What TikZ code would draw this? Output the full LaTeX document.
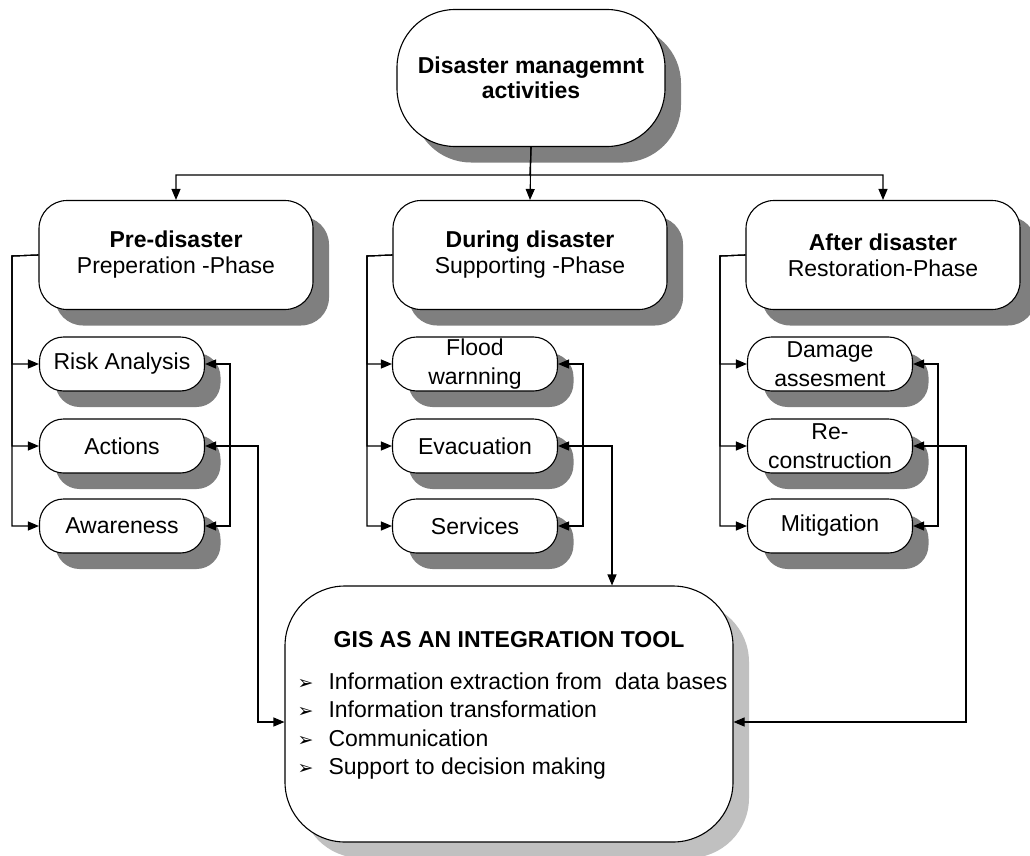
\documentclass[tikz,border=0pt]{standalone}
\usepackage{fontspec}
\setmainfont{Liberation Sans}
\newfontfamily\djv{DejaVu Sans}
\usetikzlibrary{arrows.meta,shadows}
\definecolor{shA}{HTML}{7F7F7F}
\definecolor{shB}{HTML}{C0C0C0}
\newcommand{\gisbullet}{\makebox[31pt][l]{\djv\fontsize{19}{19}\selectfont ➢}}
\begin{document}
\begin{tikzpicture}[x=1pt,y=-1pt,line width=1.1pt,
  arr/.style={-{Triangle[length=11pt,width=9pt]}},
  arrb/.style={{Triangle[length=11pt,width=9pt]}-{Triangle[length=11pt,width=9pt]}},
  shad/.style={drop shadow={shadow xshift=16pt,shadow yshift=-16pt,fill=#1,opacity=1}},
  topbox/.style={draw,fill=white,shad=shA,rounded corners=58pt,minimum width=268pt,minimum height=137pt,align=center,inner sep=0pt,font=\fontsize{23}{25}\selectfont\bfseries},
  phasebox/.style={draw,fill=white,shad=shA,rounded corners=28pt,minimum width=274pt,minimum height=109pt,align=center,inner sep=0pt,font=\fontsize{23}{26}\selectfont},
  subbox/.style={draw,fill=white,shad=shA,rounded corners=24pt,minimum width=165pt,minimum height=54pt,align=center,inner sep=0pt,font=\fontsize{23}{29}\selectfont},
  gisbox/.style={draw,fill=white,shad=shB,rounded corners=60pt,minimum width=448pt,minimum height=256pt,inner sep=0pt},
  gtext/.style={inner sep=0pt,font=\fontsize{23}{28.5}\selectfont}]
\useasboundingbox (0,0) rectangle (1030,856);
% nodes
\node[topbox] (top) at (531,78) {Disaster managemnt\\activities};
\node[phasebox] (pre) at (176,255) {\textbf{Pre-disaster}\\Preperation -Phase};
\node[phasebox] (during) at (530,255) {\textbf{During disaster}\\Supporting -Phase};
\node[phasebox] (after) at (883,255) {\textbf{After disaster}\\Restoration-Phase};
\node[subbox] (risk) at (122,364) {Risk Analysis};
\node[subbox] (actions) at (122,446) {Actions};
\node[subbox] (aware) at (122,526) {Awareness};
\node[subbox] (flood) at (475,364) {Flood\\warnning};
\node[subbox] (evac) at (475,446) {Evacuation};
\node[subbox] (serv) at (475,526) {Services};
\node[subbox] (damage) at (830,364) {Damage\\assesment};
\node[subbox] (recon) at (830,446) {Re-\\construction};
\node[subbox] (mitig) at (830,526) {Mitigation};
\node[gisbox] (gis) at (509,714) {};
\node[gtext,font=\fontsize{23}{28.5}\selectfont\bfseries] (gtitle) at (509,640) {GIS AS AN INTEGRATION TOOL};
\node[gtext,anchor=north west,align=left] (glist) at (297,672) {%
\gisbullet Information extraction from\ \ data bases\\
\gisbullet Information transformation\\
\gisbullet Communication\\
\gisbullet Support to decision making};
% coordinates
\coordinate (bus) at (530,175);
\coordinate (pl) at (12,256);
\coordinate (dl) at (367,256);
\coordinate (al) at (720,256);
\coordinate (pr) at (230,0);
\coordinate (dr) at (583,0);
\coordinate (ar) at (938,0);
\coordinate (ax) at (258,0);
\coordinate (rx) at (966,0);
\coordinate (gisL) at ([yshift=-8pt]gis.west);
\coordinate (gisR) at ([yshift=-8pt]gis.east);
\coordinate (gisT) at ([xshift=103pt]gis.north);
% top distribution
\draw[arr] (top.south) -- (bus) -| (pre.north);
\draw[arr] (top.south) -- (during.north);
\draw[arr] (top.south) -- (bus) -| (after.north);
% left brackets
\foreach \c in {risk,actions,aware}{\draw[arr] (pre.west) -- (pl) |- (\c.west);}
\foreach \c in {flood,evac,serv}{\draw[arr] (during.west) -- (dl) |- (\c.west);}
\foreach \c in {damage,recon,mitig}{\draw[arr] (after.west) -- (al) |- (\c.west);}
% right brackets
\draw[arrb] (risk.east) -- (risk.east -| pr) |- (aware.east);
\draw[arrb] (flood.east) -- (flood.east -| dr) |- (serv.east);
\draw[arrb] (damage.east) -- (damage.east -| ar) |- (mitig.east);
% links to GIS
\draw[arrb] (actions.east) -- (actions.east -| ax) |- (gisL);
\draw[arrb] (evac.east) -| (gisT);
\draw[arrb] (recon.east) -- (recon.east -| rx) |- (gisR);
\end{tikzpicture}
\end{document}
